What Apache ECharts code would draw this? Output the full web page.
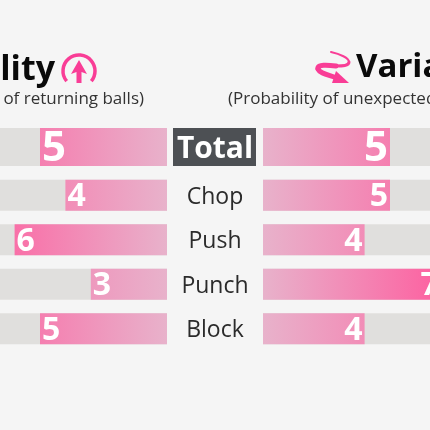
<!DOCTYPE html>
<html><head><meta charset="utf-8">
<style>html,body{margin:0;padding:0;background:#f5f5f5}#c{width:430px;height:430px}</style>
<script src="https://cdn.jsdelivr.net/npm/echarts@6/dist/echarts.min.js"></script>
</head><body><div id="c"></div>
<script>
const totalCategory = ['Total'];
const shotCategories = ['Chop', 'Push', 'Punch', 'Block'];
const stabilityTotal = [5];
const stabilityShots = [4, 6, 3, 5];
const variabilityTotal = [5];
const variabilityShots = [5, 4, 7, 4];
const trackMax = [10];

const FONT = '"Open Sans", sans-serif';
const PINK = '#f93d96';
const LIGHT = [232, 178, 203], STRONG = [253, 96, 160];
function mix(v) {
  const t = Math.pow(Math.min(1, v / 7), 1.4);
  return 'rgb(' + LIGHT.map((c, i) => Math.round(c + (STRONG[i] - c) * t)).join(',') + ')';
}
function barItem(v, inverse) {
  return {
    value: v,
    itemStyle: { color: new echarts.graphic.LinearGradient(inverse ? 1 : 0, 0, inverse ? 0 : 1, 0,
      [{ offset: 0, color: mix(0) }, { offset: 1, color: mix(v) }]) }
  };
}
const grids = [
  { left: -87, width: 254, top: 128, height: 38, outerBoundsMode: 'none' },
  { left: -87, width: 254, top: 173, height: 178, outerBoundsMode: 'none' },
  { left: 263, width: 254, top: 128, height: 38, outerBoundsMode: 'none' },
  { left: 263, width: 254, top: 173, height: 178, outerBoundsMode: 'none' }
];
const sides = [
  { cats: totalCategory, vals: stabilityTotal, inv: true, w: 38, fs: 42 },
  { cats: shotCategories, vals: stabilityShots, inv: true, w: 31, fs: 32 },
  { cats: totalCategory, vals: variabilityTotal, inv: false, w: 38, fs: 42 },
  { cats: shotCategories, vals: variabilityShots, inv: false, w: 31, fs: 32 }
];
const series = [];
sides.forEach((s, i) => {
  series.push({
    type: 'bar', xAxisIndex: i, yAxisIndex: i, barWidth: s.w, barGap: '-100%', silent: true,
    data: s.cats.map(() => trackMax[0]), itemStyle: { color: '#e0dfdd' }, z: 1
  });
  series.push({
    type: 'bar', xAxisIndex: i, yAxisIndex: i, barWidth: s.w, silent: true, z: 2,
    data: s.vals.map(v => barItem(v, s.inv)),
    label: { show: true, distance: 2, offset: [0, 2], color: '#fff', fontFamily: FONT,
      fontWeight: 'bold', fontSize: s.fs, position: s.inv ? 'insideLeft' : 'insideRight' }
  });
});
function curve(p, lw) {
  return { type: 'bezierCurve', shape: { x1: p[0], y1: p[1], cpx1: p[2], cpy1: p[3], cpx2: p[4], cpy2: p[5], x2: p[6], y2: p[7] },
    style: { fill: null, stroke: PINK, lineWidth: lw, lineCap: 'round' } };
}
const chart = echarts.init(document.getElementById('c'), null, { renderer: 'canvas' });
chart.setOption({
  animation: false,
  backgroundColor: '#f5f5f5',
  grid: grids,
  xAxis: sides.map((s, i) => ({ type: 'value', gridIndex: i, min: 0, max: trackMax[0], inverse: s.inv, show: false })),
  yAxis: sides.map((s, i) => ({ type: 'category', gridIndex: i, data: s.cats, inverse: true, show: false })),
  series,
  graphic: [
    { type: 'rect', shape: { x: 173, y: 128, width: 83, height: 38 }, style: { fill: '#4d5054' } },
    { type: 'text', x: 215, y: 149, style: { text: totalCategory[0], font: 'bold 30px ' + FONT, fill: '#fff', align: 'center', verticalAlign: 'middle' } },
    ...shotCategories.map((c, i) => ({ type: 'text', x: 215, y: 197 + i * 44.5, style: { text: c, font: '23px ' + FONT, fill: '#2b2b2b', align: 'center', verticalAlign: 'middle' } })),
    { type: 'text', x: 55, y: 70, style: { text: 'Stability', font: 'bold 34px ' + FONT, fill: '#0a0a0a', align: 'right', verticalAlign: 'middle' } },
    { type: 'text', x: 144, y: 99, style: { text: '(Probability of returning balls)', font: '17px ' + FONT, fill: '#333', align: 'right', verticalAlign: 'middle' } },
    { type: 'text', x: 356, y: 68, style: { text: 'Variability', font: 'bold 33px ' + FONT, fill: '#0a0a0a', align: 'left', verticalAlign: 'middle' } },
    { type: 'text', x: 228, y: 99, style: { text: '(Probability of unexpected balls)', font: '17px ' + FONT, fill: '#333', align: 'left', verticalAlign: 'middle' } },
    { type: 'arc', shape: { cx: 79, cy: 71, r: 16, startAngle: Math.PI * 0.78, endAngle: Math.PI * 0.22, clockwise: true }, style: { fill: null, stroke: PINK, lineWidth: 3.5 } },
    { type: 'polygon', shape: { points: [[79, 60], [87, 74], [81.5, 72], [81.5, 83], [76.5, 83], [76.5, 72], [71, 74]] }, style: { fill: PINK } },
    curve([331, 52, 340, 54, 349, 58, 349, 62], 2),
    curve([349, 62, 349, 66, 342, 66, 336, 66], 3),
    curve([336, 66, 328, 65, 317, 64, 318, 69], 5),
    curve([318, 69, 320, 74, 330, 75, 337, 78], 5),
    { type: 'polygon', shape: { points: [[336, 71], [349, 83], [332, 83]] }, style: { fill: PINK } }
  ]
});
</script></body></html>
